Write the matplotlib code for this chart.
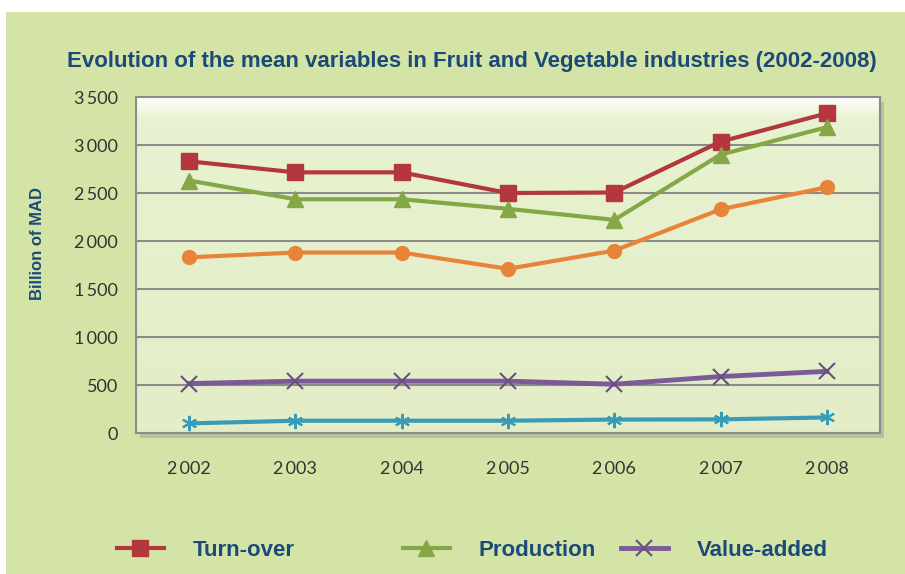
import numpy as np
import matplotlib
matplotlib.use("Agg")
from matplotlib import pyplot as plt
from matplotlib.patches import Rectangle

years = ["2\u2009002", "2\u2009003", "2\u2009004", "2\u2009005", "2\u2009006", "2\u2009007", "2\u2009008"]
turnover = [2830, 2715, 2715, 2500, 2505, 3035, 3330]
production = [2630, 2435, 2435, 2335, 2220, 2900, 3185]
orange_s = [1830, 1880, 1880, 1710, 1900, 2330, 2560]
value_added = [515, 540, 540, 540, 508, 588, 642]
teal_s = [100, 128, 128, 128, 140, 142, 162]
yticks = [0, 500, 1000, 1500, 2000, 2500, 3000, 3500]
ylabels = ["0", "500", "1\u2009000", "1\u2009500", "2\u2009000", "2\u2009500", "3\u2009000", "3\u2009500"]

navy = "#1B4A78"
tickfont = ["Lato", "DejaVu Sans"]
boldfont = ["Liberation Sans", "DejaVu Sans"]

fig = plt.figure(figsize=(9.05, 5.74), dpi=100)
fig.patch.set_facecolor("white")
# outer green panel
fig.patches.append(Rectangle((6 / 905, 0), 1, 1 - 12 / 574, transform=fig.transFigure,
                             facecolor="#D4E4A7", edgecolor="none", zorder=-10))

ax = fig.add_axes([136 / 905, 1 - 433 / 574, 744 / 905, 336 / 574])
# shadow of plot area
fig.patches.append(Rectangle(((136 + 4) / 905, 1 - (433 + 5) / 574), 744 / 905, 336 / 574,
                             transform=fig.transFigure, facecolor="#A3AC92", edgecolor="none",
                             alpha=0.6, zorder=-5))

x = np.arange(len(years))
ax.set_xlim(-0.5, len(years) - 0.5)

# gradient background
grad = np.linspace(0, 1, 200).reshape(-1, 1)
top = np.array([1.0, 1.0, 1.0])
mid = np.array([0.91, 0.95, 0.82])
bot = np.array([0.89, 0.93, 0.78])
w = np.clip(grad / 0.06, 0, 1)
colors = np.where(grad < 0.06, top * (1 - w) + mid * w,
                  mid + (bot - mid) * ((grad - 0.06) / 0.94))
ax.imshow(colors.reshape(200, 1, 3), extent=[-0.5, len(years) - 0.5, 3500, 0],
          aspect="auto", zorder=0, origin="lower")
ax.set_ylim(0, 3500)

for yv in yticks[1:-1]:
    ax.axhline(yv, color="#8C8C8C", lw=1.5, zorder=1)

ax.plot(x, orange_s, color="#E8843A", lw=3, marker="o", ms=10, zorder=3)
ax.plot(x, teal_s, color="#3A9CB4", lw=3, marker=(6, 2, 0), ms=11, mew=1.5,
        markeredgecolor="#3A9CB4", zorder=3)
l1, = ax.plot(x, turnover, color="#B3373D", lw=3, marker="s", ms=11, zorder=4)
l2, = ax.plot(x, production, color="#84A846", lw=3, marker="^", ms=11, zorder=4)
l3, = ax.plot(x, value_added, color="#7A5A97", lw=3.5, marker="x", ms=11, mew=1.5,
              markeredgecolor="#6A4F80", zorder=3)

for s in ax.spines.values():
    s.set_color("#8C8C8C")
    s.set_linewidth(1.5)

ax.set_xticks(x)
ax.set_xticklabels(years, family=tickfont, fontsize=13, color="#333333")
ax.set_yticks(yticks)
ax.set_yticklabels(ylabels, family=tickfont, fontsize=13, color="#333333")
ax.tick_params(axis="x", length=0, pad=20)
ax.tick_params(axis="y", length=0, pad=13)

fig.text(472 / 905, 1 - 62 / 574, "Evolution of the mean variables in Fruit and Vegetable industries (2002-2008)",
         ha="center", va="center", fontsize=16, fontweight="bold", color=navy, family=boldfont)
fig.text(38 / 905, 1 - 243 / 574, "Billion of MAD", rotation=90, ha="center", va="center",
         fontsize=12, fontweight="bold", color=navy, family=boldfont)

legend_x = [117, 403, 621]
for h, lab, lx in zip([l1, l2, l3], ["Turn-over", "Production", "Value-added"], legend_x):
    leg = fig.legend([h], [lab], loc="center left", bbox_to_anchor=(lx / 905, 1 - 550 / 574),
                     frameon=False, handlelength=2.1, handletextpad=1.3, borderpad=0,
                     borderaxespad=0, prop={"family": boldfont, "weight": "bold", "size": 16})
    for t in leg.get_texts():
        t.set_color(navy)

fig.savefig("out.png", dpi=100, facecolor=fig.get_facecolor())
